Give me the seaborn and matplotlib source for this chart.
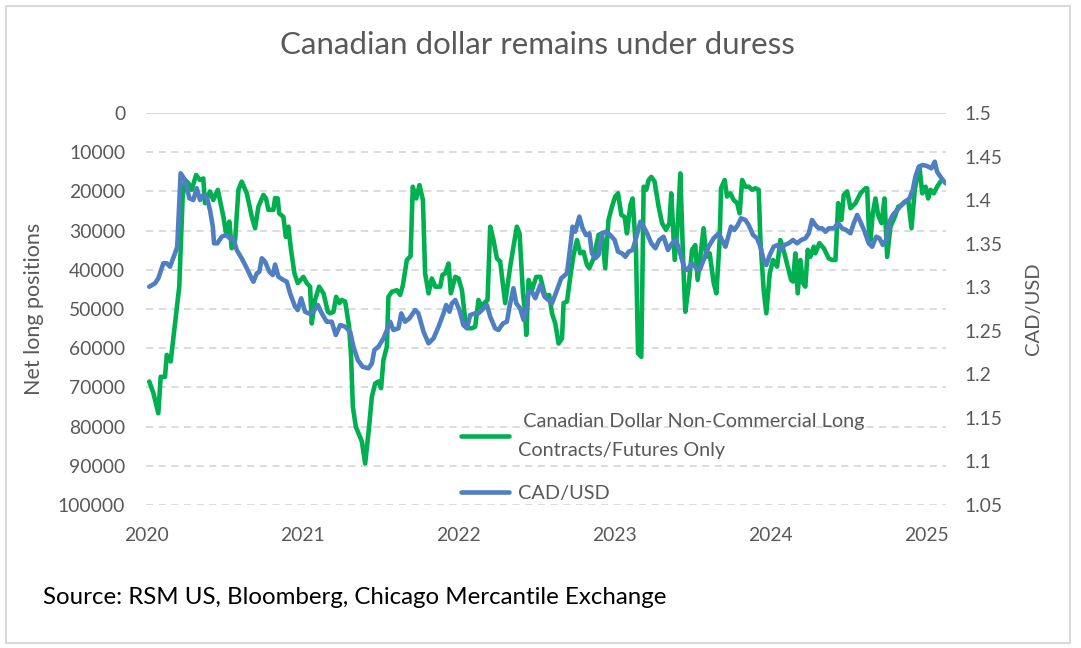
import numpy as np
import pandas as pd
import seaborn as sns
import matplotlib.pyplot as plt
from matplotlib.patches import Rectangle
from matplotlib.ticker import FuncFormatter

# weekly net long positions, x as decimal years
net_year = [2020.021, 2020.047, 2020.079, 2020.094, 2020.122, 2020.133, 2020.158, 2020.213, 2020.235, 2020.250,
            2020.271, 2020.293, 2020.321, 2020.346, 2020.367, 2020.378, 2020.410, 2020.431, 2020.460, 2020.496,
            2020.513, 2020.534, 2020.549, 2020.571, 2020.592, 2020.613, 2020.646, 2020.678, 2020.699, 2020.720,
            2020.752, 2020.769, 2020.784, 2020.816, 2020.827, 2020.844, 2020.853, 2020.880, 2020.896, 2020.912,
            2020.929, 2020.951, 2020.972, 2021.008, 2021.030, 2021.051, 2021.062, 2021.083, 2021.109, 2021.137,
            2021.165, 2021.179, 2021.201, 2021.218, 2021.239, 2021.254, 2021.276, 2021.301, 2021.314, 2021.325,
            2021.344, 2021.383, 2021.404, 2021.425, 2021.447, 2021.468, 2021.489, 2021.506, 2021.521, 2021.543,
            2021.553, 2021.575, 2021.607, 2021.628, 2021.646, 2021.671, 2021.695, 2021.709, 2021.731, 2021.752,
            2021.774, 2021.788, 2021.810, 2021.831, 2021.853, 2021.885, 2021.899, 2021.917, 2021.938, 2021.953,
            2021.981, 2022.002, 2022.024, 2022.045, 2022.066, 2022.088, 2022.109, 2022.130, 2022.152, 2022.167,
            2022.188, 2022.205, 2022.226, 2022.248, 2022.269, 2022.301, 2022.333, 2022.354, 2022.376, 2022.393,
            2022.415, 2022.429, 2022.436, 2022.451, 2022.472, 2022.500, 2022.526, 2022.558, 2022.583, 2022.601,
            2022.622, 2022.643, 2022.665, 2022.675, 2022.697, 2022.718, 2022.739, 2022.761, 2022.782, 2022.803,
            2022.825, 2022.840, 2022.867, 2022.899, 2022.921, 2022.942, 2022.963, 2022.985, 2023.006, 2023.024,
            2023.045, 2023.066, 2023.081, 2023.103, 2023.117, 2023.139, 2023.152, 2023.173, 2023.188, 2023.205,
            2023.220, 2023.237, 2023.258, 2023.284, 2023.306, 2023.331, 2023.353, 2023.365, 2023.387, 2023.408,
            2023.423, 2023.444, 2023.455, 2023.476, 2023.498, 2023.519, 2023.534, 2023.551, 2023.572, 2023.590,
            2023.611, 2023.637, 2023.654, 2023.675, 2023.684, 2023.707, 2023.722, 2023.744, 2023.765, 2023.787,
            2023.803, 2023.819, 2023.840, 2023.861, 2023.883, 2023.904, 2023.925, 2023.936, 2023.957, 2023.974,
            2023.996, 2024.017, 2024.043, 2024.064, 2024.090, 2024.111, 2024.133, 2024.145, 2024.160, 2024.175,
            2024.192, 2024.209, 2024.224, 2024.239, 2024.256, 2024.278, 2024.288, 2024.314, 2024.342, 2024.374,
            2024.396, 2024.417, 2024.434, 2024.455, 2024.470, 2024.492, 2024.513, 2024.545, 2024.577, 2024.609,
            2024.620, 2024.630, 2024.641, 2024.656, 2024.673, 2024.690, 2024.712, 2024.731, 2024.748, 2024.769,
            2024.797, 2024.819, 2024.840, 2024.861, 2024.883, 2024.904, 2024.925, 2024.940, 2024.955, 2024.973,
            2024.994, 2025.011, 2025.026, 2025.047, 2025.068, 2025.090]
net_long = [68500, 71400, 76600, 67300, 67300, 61700, 63400, 44300, 21300, 17100,
            17900, 19600, 15800, 17100, 16700, 23000, 20000, 22200, 19600, 26500,
            30700, 27700, 34500, 32400, 19600, 17500, 20500, 26500, 29400, 23900,
            20900, 21800, 24700, 24700, 21700, 21800, 25600, 26500, 31600, 29000,
            34900, 40900, 43400, 41800, 43400, 44300, 53700, 47700, 44300, 46000,
            50700, 51100, 50700, 46900, 48500, 47700, 48100, 54500, 62200, 74900,
            80000, 83800, 89400, 81700, 72400, 69000, 68500, 70200, 63000, 59600,
            46900, 45600, 45200, 46400, 43900, 37500, 36500, 18800, 21800, 18400,
            22200, 40900, 46000, 42200, 44300, 44300, 41300, 40900, 38400, 46000,
            41800, 42200, 45200, 52800, 54900, 54900, 54500, 47700, 49800, 48500,
            47700, 29000, 32400, 37100, 37900, 48500, 39200, 34100, 29000, 30700,
            46000, 51100, 56600, 42600, 45200, 41800, 41800, 46900, 46400, 51100,
            53700, 58800, 57500, 48500, 48100, 41800, 36200, 32400, 35800, 35400,
            38800, 39600, 37100, 31100, 30700, 39600, 27300, 23900, 21300, 20500,
            26000, 26500, 30700, 23500, 21800, 34900, 61300, 62200, 18800, 19600,
            17100, 16300, 17500, 23900, 28100, 29800, 28100, 20500, 37500, 27300,
            15400, 40900, 50700, 44300, 34900, 33700, 42600, 36700, 29400, 36700,
            35800, 43400, 46000, 32400, 19200, 17100, 21300, 20500, 22200, 23000,
            25600, 17100, 18800, 18800, 19600, 19200, 19600, 32400, 45200, 51100,
            40900, 37500, 39200, 32400, 35800, 39200, 42600, 43000, 35800, 46000,
            37500, 43400, 44300, 34900, 36700, 34100, 35800, 33200, 34500, 37100,
            37500, 37500, 23000, 27300, 20900, 20000, 24300, 23000, 20500, 19200,
            19200, 29000, 32400, 25600, 21800, 26000, 28100, 21800, 36700, 29000,
            26500, 23900, 23500, 22600, 22200, 29400, 19600, 16300, 13700, 20500,
            18800, 21800, 19600, 20500, 18800, 17500]

# CAD/USD exchange rate
fx_year = [2020.021, 2020.058, 2020.079, 2020.111, 2020.133, 2020.154, 2020.186, 2020.200, 2020.222, 2020.250,
           2020.278, 2020.303, 2020.325, 2020.346, 2020.367, 2020.389, 2020.410, 2020.428, 2020.436, 2020.457,
           2020.485, 2020.513, 2020.538, 2020.560, 2020.581, 2020.613, 2020.646, 2020.671, 2020.688, 2020.710,
           2020.726, 2020.742, 2020.763, 2020.790, 2020.812, 2020.827, 2020.848, 2020.880, 2020.902, 2020.923,
           2020.955, 2020.972, 2020.994, 2021.019, 2021.040, 2021.072, 2021.101, 2021.126, 2021.158, 2021.190,
           2021.216, 2021.244, 2021.276, 2021.308, 2021.329, 2021.357, 2021.387, 2021.425, 2021.447, 2021.463,
           2021.489, 2021.521, 2021.553, 2021.564, 2021.585, 2021.617, 2021.635, 2021.660, 2021.688, 2021.724,
           2021.745, 2021.778, 2021.810, 2021.842, 2021.874, 2021.906, 2021.923, 2021.944, 2021.960, 2021.981,
           2022.008, 2022.033, 2022.056, 2022.077, 2022.109, 2022.130, 2022.152, 2022.184, 2022.205, 2022.237,
           2022.258, 2022.287, 2022.312, 2022.329, 2022.354, 2022.372, 2022.397, 2022.419, 2022.436, 2022.451,
           2022.472, 2022.494, 2022.526, 2022.553, 2022.601, 2022.633, 2022.660, 2022.697, 2022.718, 2022.733,
           2022.750, 2022.776, 2022.797, 2022.819, 2022.840, 2022.857, 2022.878, 2022.899, 2022.921, 2022.947,
           2022.974, 2023.002, 2023.024, 2023.049, 2023.071, 2023.092, 2023.117, 2023.139, 2023.167, 2023.188,
           2023.210, 2023.237, 2023.263, 2023.288, 2023.316, 2023.344, 2023.370, 2023.396, 2023.419, 2023.449,
           2023.466, 2023.498, 2023.526, 2023.547, 2023.572, 2023.604, 2023.636, 2023.669, 2023.690, 2023.712,
           2023.733, 2023.748, 2023.769, 2023.791, 2023.812, 2023.840, 2023.861, 2023.889, 2023.915, 2023.936,
           2023.957, 2023.974, 2023.996, 2024.021, 2024.047, 2024.069, 2024.090, 2024.117, 2024.145, 2024.171,
           2024.197, 2024.224, 2024.246, 2024.267, 2024.288, 2024.310, 2024.331, 2024.353, 2024.374, 2024.406,
           2024.434, 2024.460, 2024.485, 2024.513, 2024.534, 2024.556, 2024.577, 2024.604, 2024.630, 2024.652,
           2024.678, 2024.699, 2024.720, 2024.742, 2024.763, 2024.784, 2024.812, 2024.840, 2024.865, 2024.891,
           2024.912, 2024.929, 2024.951, 2024.976, 2025.004, 2025.032, 2025.053, 2025.068, 2025.096, 2025.122]
cad_usd = [1.3006, 1.3045, 1.3102, 1.3275, 1.3275, 1.3236, 1.3390, 1.3465, 1.4308, 1.4231,
           1.4021, 1.4001, 1.4136, 1.4001, 1.4059, 1.4040, 1.3886, 1.3695, 1.3504, 1.3504,
           1.3580, 1.3599, 1.3561, 1.3561, 1.3427, 1.3332, 1.3217, 1.3121, 1.3063, 1.3160,
           1.3178, 1.3332, 1.3293, 1.3178, 1.3140, 1.3260, 1.3121, 1.3083, 1.3063, 1.2930,
           1.2776, 1.2738, 1.2873, 1.2719, 1.2700, 1.2719, 1.2796, 1.2700, 1.2604, 1.2604,
           1.2451, 1.2566, 1.2547, 1.2489, 1.2317, 1.2164, 1.2088, 1.2069, 1.2126, 1.2279,
           1.2317, 1.2413, 1.2547, 1.2604, 1.2509, 1.2528, 1.2700, 1.2604, 1.2643, 1.2738,
           1.2700, 1.2489, 1.2356, 1.2413, 1.2547, 1.2700, 1.2796, 1.2719, 1.2815, 1.2853,
           1.2738, 1.2566, 1.2528, 1.2681, 1.2700, 1.2700, 1.2738, 1.2796, 1.2662, 1.2528,
           1.2509, 1.2585, 1.2604, 1.2777, 1.2988, 1.2815, 1.2757, 1.2624, 1.2738, 1.2949,
           1.2949, 1.2873, 1.3026, 1.2892, 1.2815, 1.2968, 1.3102, 1.3160, 1.3465, 1.3695,
           1.3637, 1.3810, 1.3676, 1.3599, 1.3619, 1.3390, 1.3332, 1.3370, 1.3619, 1.3637,
           1.3599, 1.3542, 1.3408, 1.3390, 1.3350, 1.3408, 1.3427, 1.3561, 1.3752, 1.3695,
           1.3619, 1.3504, 1.3447, 1.3542, 1.3580, 1.3427, 1.3504, 1.3542, 1.3408, 1.3217,
           1.3198, 1.3275, 1.3217, 1.3198, 1.3312, 1.3465, 1.3561, 1.3619, 1.3542, 1.3465,
           1.3599, 1.3695, 1.3657, 1.3714, 1.3791, 1.3772, 1.3714, 1.3599, 1.3561, 1.3465,
           1.3312, 1.3255, 1.3370, 1.3465, 1.3485, 1.3427, 1.3485, 1.3504, 1.3542, 1.3504,
           1.3542, 1.3561, 1.3619, 1.3772, 1.3714, 1.3676, 1.3676, 1.3637, 1.3676, 1.3676,
           1.3734, 1.3676, 1.3657, 1.3619, 1.3734, 1.3830, 1.3752, 1.3637, 1.3504, 1.3465,
           1.3580, 1.3561, 1.3485, 1.3542, 1.3752, 1.3830, 1.3886, 1.3944, 1.3982, 1.4020,
           1.4116, 1.4269, 1.4384, 1.4403, 1.4391, 1.4365, 1.4441, 1.4326, 1.4251, 1.4193]

left_ticks = [0, 10000, 20000, 30000, 40000, 50000, 60000, 70000, 80000, 90000, 100000]
right_ticks = [1.05, 1.1, 1.15, 1.2, 1.25, 1.3, 1.35, 1.4, 1.45, 1.5]
year_ticks = [2020, 2021, 2022, 2023, 2024, 2025]

title = 'Canadian dollar remains under duress'
green_label = ' Canadian Dollar Non-Commercial Long\nContracts/Futures Only'
blue_label = 'CAD/USD'
source = 'Source: RSM US, Bloomberg, Chicago Mercantile Exchange'


def to_date(years):
    years = np.asarray(years, dtype=float)
    return pd.Timestamp('2020-01-01') + pd.to_timedelta((years - 2020) * 365.25, unit='D')


net_df = pd.DataFrame({'date': to_date(net_year), 'net': net_long})
fx_df = pd.DataFrame({'date': to_date(fx_year), 'fx': cad_usd})

sns.set_style('white')
plt.rcParams['font.family'] = ['Lato', 'DejaVu Sans']
text_grey = '#595959'
grid_grey = '#D9D9D9'
green = '#00B050'
blue = '#4F7FC0'

fig = plt.figure(figsize=(10.81, 6.48), dpi=100)
ax = fig.add_axes([146 / 1081, 1 - 505 / 648, 800 / 1081, 392 / 648])
ax2 = ax.twinx()

sns.lineplot(data=net_df, x='date', y='net', ax=ax, color=green, linewidth=3.3, label=green_label, legend=False)
sns.lineplot(data=fx_df, x='date', y='fx', ax=ax2, color=blue, linewidth=3.3, label=blue_label, legend=False)

ax.set_xlim(to_date([2020.0])[0], to_date([2025.125])[0])
ax.set_ylim(100000, 0)
ax2.set_ylim(1.05, 1.5)

ax.set_xticks([pd.Timestamp(f'{y}-01-01') for y in year_ticks])
ax.set_xticklabels([str(y) for y in year_ticks])
ax.set_yticks(left_ticks)
ax.yaxis.set_major_formatter(FuncFormatter(lambda v, p: f'{int(v)}'))
ax2.set_yticks(right_ticks)
ax2.yaxis.set_major_formatter(FuncFormatter(lambda v, p: f'{v:g}'))

# dashed horizontal gridlines; the value axis 0 line at top is solid
for v in left_ticks[1:]:
    ax.axhline(v, color=grid_grey, linewidth=1.3, linestyle=(0, (4, 3)), zorder=0)
ax.axhline(0, color=grid_grey, linewidth=1.3, zorder=0)

for a in (ax, ax2):
    for s in a.spines.values():
        s.set_visible(False)
    a.tick_params(length=0, labelsize=13.9, labelcolor=text_grey)
ax.tick_params(axis='x', pad=16)
ax.tick_params(axis='y', pad=15)
ax2.tick_params(axis='y', pad=13)

ax.set_xlabel('')
ax.set_ylabel('Net long positions', fontsize=15.5, color=text_grey)
ax.yaxis.set_label_coords(-0.127, 0.5)
ax2.set_ylabel('CAD/USD', fontsize=14.5, color=text_grey)
ax2.yaxis.set_label_coords(1.099, 0.5)

handles = ax.get_lines()[:1] + ax2.get_lines()[:1]
leg = ax2.legend(handles, [green_label, blue_label], loc='upper left',
                 bbox_to_anchor=(461 / 1081, 1 - 413 / 648), bbox_transform=fig.transFigure,
                 frameon=False, fontsize=14.3, handlelength=2.4, handletextpad=0.45,
                 labelspacing=1.3, borderpad=0, borderaxespad=0)
for t in leg.get_texts():
    t.set_color(text_grey)
    t.set_linespacing(1.85)

fig.text(537 / 1081, 1 - 45 / 648, title, ha='center', va='center', fontsize=22.5, color=text_grey)
fig.text(43 / 1081, 1 - 598 / 648, source, ha='left', va='center', fontsize=17.3, color='black')
fig.patches.append(Rectangle((6 / 1081, 5 / 648), 1064 / 1081, 637 / 648, transform=fig.transFigure,
                             fill=False, edgecolor=grid_grey, linewidth=1.5))

fig.savefig('out.png', dpi=100)
